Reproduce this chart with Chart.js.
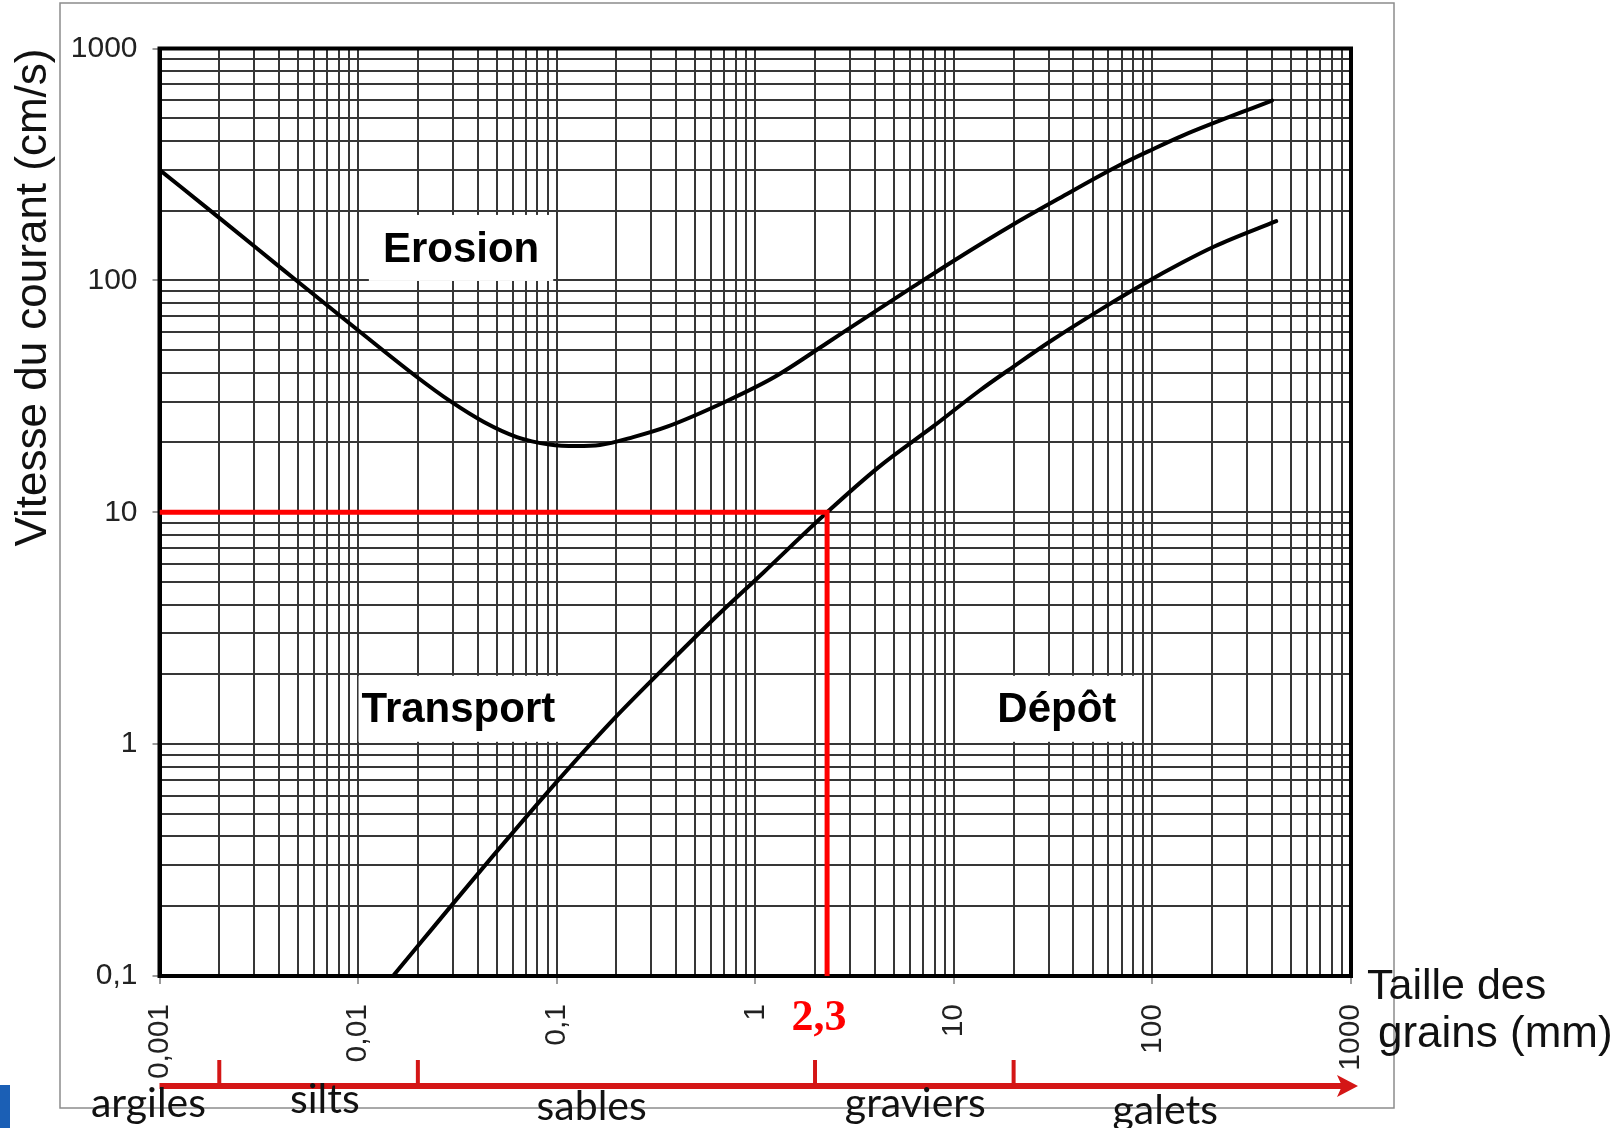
<!DOCTYPE html>
<html>
<head>
<meta charset="utf-8">
<script src="https://cdn.jsdelivr.net/npm/chart.js@4.4.1/dist/chart.umd.min.js"></script>
<style>
  html, body { margin: 0; padding: 0; background: #fff; }
  #wrap { width: 1620px; height: 1128px; position: relative; }
</style>
</head>
<body>
<div id="wrap"><canvas id="hjulstrom" width="1620" height="1128"></canvas></div>
<script>
// Diagramme de Hjulström : vitesse du courant en fonction de la taille des grains

// Axis decades and their labels
const grainDecades = [0.001, 0.01, 0.1, 1, 10, 100, 1000];
const grainTickLabels = ['0,001', '0,01', '0,1', '1', '10', '100', '1000'];
const speedDecades = [0.1, 1, 10, 100, 1000];
const speedTickLabels = ['0,1', '1', '10', '100', '1000'];

// Erosion threshold curve (mm, cm/s)
const erosionSize  = [0.001, 0.002, 0.0042, 0.0091, 0.0197, 0.029, 0.043, 0.063, 0.092, 0.126, 0.165, 0.243, 0.36, 0.72, 1.25, 2.3, 3.0, 6.3, 10, 20, 34, 66, 100, 143, 400];
const erosionSpeed = [300, 186, 111, 65, 38.4, 30.2, 24.5, 21.1, 19.6, 19.3, 19.5, 21.1, 23.4, 30.2, 38.3, 53.7, 62.4, 94.4, 121.6, 174.6, 226, 309, 367, 422, 596];

// Deposition threshold curve (mm, cm/s)
const depositSize  = [0.015, 0.041, 0.1, 0.19, 0.34, 0.6, 1.1, 2.3, 4.2, 7.9, 13.5, 20, 30.5, 55, 90, 143, 205, 420];
const depositSpeed = [0.1, 0.282, 0.687, 1.26, 2.09, 3.38, 5.5, 10, 15.7, 23.5, 33.5, 42.5, 54.5, 75, 96.5, 120, 140, 180];

// Reading: a 10 cm/s current deposits grains of 2,3 mm
const readSpeed = 10;
const readSize = 2.3;
const readLabel = '2,3';

// Grain size classes along the bottom arrow
const classNames   = ['argiles', 'silts', 'sables', 'graviers', 'galets'];
const classLimits  = [0.002, 0.02, 2, 20];
const classCenters = [0.00088, 0.0068, 0.15, 6.4, 116];

// Zone names placed in the plot (mm, cm/s)
const zoneNames  = ['Erosion', 'Transport', 'Dépôt'];
const zoneSizes  = [0.033, 0.032, 33];
const zoneSpeeds = [138, 1.42, 1.42];

// ---------------------------------------------------------------
const SANS = '"Liberation Sans", Arial, sans-serif';

function logGrid(decades) {
  const out = [];
  for (let i = 0; i < decades.length - 1; i++) {
    for (let k = 1; k < 10; k++) out.push(+(decades[i] * k).toPrecision(4));
  }
  out.push(decades[decades.length - 1]);
  return out;
}
function decadeIndex(decades, v) {
  return decades.findIndex(d => Math.abs(d - v) / d < 1e-6);
}
function points(xs, ys) {
  return xs.map((x, i) => ({ x, y: ys[i] }));
}

const GRID = '#363636';
const TICK = '#9a9a9a';

const zonePlugin = {
  id: 'zones',
  beforeDatasetsDraw(chart) {
    const { ctx, chartArea: a, scales: { x, y } } = chart;
    ctx.save();
    // top and right edges of the plot frame
    ctx.strokeStyle = '#000';
    ctx.lineWidth = 4;
    ctx.strokeRect(a.left, a.top, a.right - a.left, a.bottom - a.top);
    // zone names on white boxes
    const padX = [14, 3, 24];
    ctx.font = 'bold 42px ' + SANS;
    ctx.textAlign = 'center';
    ctx.textBaseline = 'middle';
    zoneNames.forEach((name, i) => {
      const cx = x.getPixelForValue(zoneSizes[i]);
      const cy = y.getPixelForValue(zoneSpeeds[i]);
      const w = ctx.measureText(name).width + 2 * padX[i];
      ctx.fillStyle = '#fff';
      ctx.fillRect(cx - w / 2, cy - 33, w, 66);
      ctx.fillStyle = '#000';
      ctx.fillText(name, cx, cy + 2);
    });
    ctx.restore();
  },
  afterDraw(chart) {
    const { ctx, chartArea: a, scales: { x } } = chart;
    ctx.save();
    // outer frame
    ctx.strokeStyle = '#8c8c8c';
    ctx.lineWidth = 1.5;
    ctx.strokeRect(60, 3, 1334, 1105);

    // x axis title, to the right of the plot
    ctx.fillStyle = '#111';
    ctx.textAlign = 'left';
    ctx.textBaseline = 'alphabetic';
    ctx.font = '43px ' + SANS;
    ctx.fillText('Taille des', a.right + 16, a.bottom + 23);
    ctx.font = '44px ' + SANS;
    ctx.fillText('grains (mm)', a.right + 27, a.bottom + 71);

    // reading value under the red line
    const rx = x.getPixelForValue(readSize);
    ctx.fillStyle = '#ff0000';
    ctx.font = 'bold 44px "Liberation Serif", "Times New Roman", serif';
    ctx.textAlign = 'center';
    ctx.fillText(readLabel, rx - 8, a.bottom + 54);

    // grain size classes arrow
    const ay = a.bottom + 110;
    const x0 = x.getPixelForValue(grainDecades[0]);
    const x1 = x.getPixelForValue(grainDecades[grainDecades.length - 1]);
    ctx.strokeStyle = '#d41616';
    ctx.fillStyle = '#d41616';
    ctx.lineWidth = 6;
    ctx.lineCap = 'butt';
    ctx.beginPath();
    ctx.moveTo(x0, ay);
    ctx.lineTo(x1 - 6, ay);
    ctx.stroke();
    ctx.beginPath();
    ctx.moveTo(x1 + 7, ay);
    ctx.lineTo(x1 - 14, ay - 11);
    ctx.lineTo(x1 - 9, ay);
    ctx.lineTo(x1 - 14, ay + 11);
    ctx.closePath();
    ctx.fill();
    ctx.lineWidth = 4;
    classLimits.forEach(v => {
      const px = x.getPixelForValue(v);
      ctx.beginPath();
      ctx.moveTo(px, ay);
      ctx.lineTo(px, ay - 26);
      ctx.stroke();
    });

    // class names
    ctx.fillStyle = '#111';
    ctx.font = '41px Lato, "Open Sans", sans-serif';
    ctx.textAlign = 'center';
    const base = [1117, 1113, 1120, 1117, 1124];
    classNames.forEach((n, i) => {
      ctx.fillText(n, x.getPixelForValue(classCenters[i]), base[i]);
    });

    // blue tab at the lower left corner
    ctx.fillStyle = '#1b5fb5';
    ctx.fillRect(0, 1085, 10, 43);
    ctx.restore();
  }
};

new Chart(document.getElementById('hjulstrom'), {
  type: 'line',
  data: {
    datasets: [
      {
        label: 'lecture',
        data: [{ x: grainDecades[0], y: readSpeed }, { x: readSize, y: readSpeed }, { x: readSize, y: speedDecades[0] }],
        borderColor: '#ff0000',
        borderWidth: 5,
        pointRadius: 0,
        tension: 0,
        borderJoinStyle: 'miter'
      },
      {
        label: 'Erosion',
        data: points(erosionSize, erosionSpeed),
        borderColor: '#000',
        borderWidth: 4,
        pointRadius: 0,
        cubicInterpolationMode: 'monotone',
        borderCapStyle: 'round'
      },
      {
        label: 'Dépôt',
        data: points(depositSize, depositSpeed),
        borderColor: '#000',
        borderWidth: 4,
        pointRadius: 0,
        cubicInterpolationMode: 'monotone',
        borderCapStyle: 'round'
      }
    ]
  },
  options: {
    responsive: false,
    animation: false,
    events: [],
    layout: { padding: { left: 0, top: 48.5, right: 269, bottom: 32 } },
    plugins: { legend: { display: false }, tooltip: { enabled: false } },
    scales: {
      x: {
        type: 'logarithmic',
        min: grainDecades[0],
        max: grainDecades[grainDecades.length - 1],
        afterBuildTicks: s => { s.ticks = logGrid(grainDecades).map(v => ({ value: v })); },
        afterFit: s => { s.height = 120; },
        grid: {
          color: GRID, lineWidth: 2, tickLength: 8, tickWidth: 2,
          tickColor: c => decadeIndex(grainDecades, c.tick.value) >= 0 ? TICK : 'rgba(0,0,0,0)'
        },
        border: { display: true, color: '#000', width: 4 },
        ticks: {
          autoSkip: false, maxRotation: 90, minRotation: 90, padding: 20,
          color: '#222', font: { family: SANS, size: 30 },
          callback: v => { const i = decadeIndex(grainDecades, v); return i >= 0 ? grainTickLabels[i] : ''; }
        }
      },
      y: {
        type: 'logarithmic',
        min: speedDecades[0],
        max: speedDecades[speedDecades.length - 1],
        afterBuildTicks: s => { s.ticks = logGrid(speedDecades).map(v => ({ value: v })); },
        afterFit: s => { s.width = 159.5; },
        grid: {
          color: GRID, lineWidth: 2, tickLength: 7, tickWidth: 2,
          tickColor: c => decadeIndex(speedDecades, c.tick.value) >= 0 ? TICK : 'rgba(0,0,0,0)'
        },
        border: { display: true, color: '#000', width: 4 },
        title: {
          display: true, text: 'Vitesse du courant (cm/s)', align: 'end',
          color: '#111', font: { family: SANS, size: 44 }, padding: { top: 7, bottom: 0 }
        },
        ticks: {
          autoSkip: false, padding: 15,
          color: '#222', font: { family: SANS, size: 30 },
          callback: v => { const i = decadeIndex(speedDecades, v); return i >= 0 ? speedTickLabels[i] : ''; }
        }
      }
    }
  },
  plugins: [zonePlugin]
});
</script>
</body>
</html>
